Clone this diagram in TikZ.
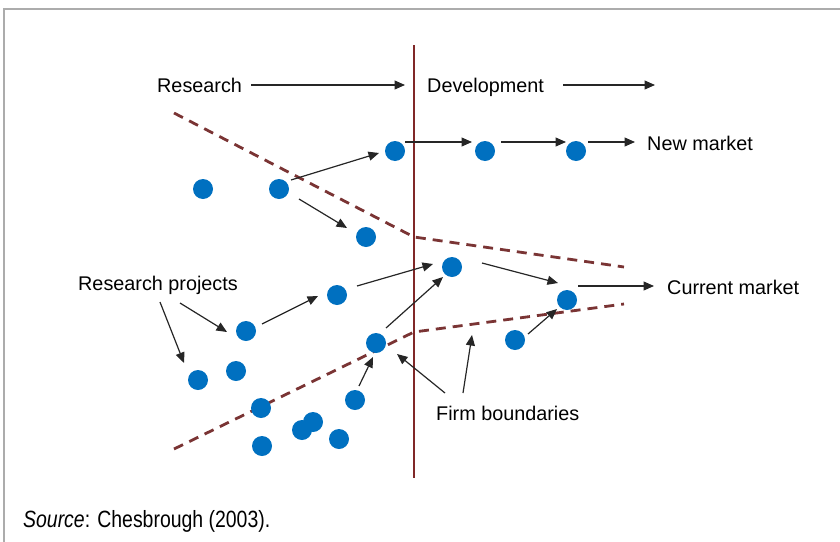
\documentclass[tikz,border=0pt]{standalone}
\usepackage{fontspec}
\setmainfont{Liberation Sans}
\usetikzlibrary{arrows.meta}
\definecolor{dotblue}{RGB}{0,112,192}
\definecolor{bound}{RGB}{122,52,52}
\definecolor{divider}{RGB}{128,40,40}
\definecolor{framegray}{RGB}{172,172,172}
\begin{document}
\begin{tikzpicture}[x=1pt,y=-1pt,
  dot/.style={circle,fill=dotblue,inner sep=0pt,minimum size=20pt},
  lbl/.style={inner sep=0pt,anchor=base west,font=\fontsize{19.8}{22}\selectfont},
  arr/.style={-{Triangle[length=10.5pt,width=9pt]},line width=1.2pt,black!85},
  boundary/.style={bound,line width=2.8pt,dash pattern=on 10pt off 7pt}]
\useasboundingbox (0,0) rectangle (840,541);
% frame
\draw[framegray,line width=2.6pt] (4,545) -- (4,9) -- (845,9);
% research / development divider
\draw[divider,line width=1.4pt] (414,45) -- (414,478);
% firm boundaries
\draw[boundary] (174,113) -- (414,237) -- (624,267);
\draw[boundary] (174,449) -- (414,332) -- (624,304);
% labels
\node[lbl] (res) at (157,92) {Research};
\node[lbl] (dev) at (427,92) {Development};
\node[lbl] (nm) at (647,150) {New market};
\node[lbl] (cm) at (667,294) {Current market};
\node[lbl] (rp) at (78,290) {Research projects};
\node[lbl] (fb) at (436,420) {Firm boundaries};
\node[inner sep=0pt,anchor=base west,font=\fontsize{23.5}{26}\selectfont] (src) at (23,527)
  {\scalebox{0.827}[1]{\textit{Source}: Chesbrough (2003).}};
\coordinate (devend) at (655,85);
\coordinate (fbA) at (397,354);
\coordinate (fbB) at (472,335);
% projects
\node[dot] (A) at (203,189) {};
\node[dot] (B) at (279,189) {};
\node[dot] (C) at (366,237) {};
\node[dot] (D) at (395,151) {};
\node[dot] (E) at (485,151) {};
\node[dot] (F) at (576,151) {};
\node[dot] (G) at (452,267) {};
\node[dot] (H) at (567,300) {};
\node[dot] (I) at (515,340) {};
\node[dot] (J) at (337,295) {};
\node[dot] (K) at (246,331) {};
\node[dot] (L) at (198,380) {};
\node[dot] (M) at (236,371) {};
\node[dot] (N) at (376,343) {};
\node[dot] (O) at (355,400) {};
\node[dot] (P) at (261,408) {};
\node[dot] (Q) at (302,430) {};
\node[dot] (R) at (313,422) {};
\node[dot] (S) at (339,439) {};
\node[dot] (T) at (262,446) {};
% stage arrows
\draw[arr] ([xshift=9pt]res.east |- 0,85) -- ([xshift=-22pt]dev.west |- 0,85);
\draw[arr] ([xshift=19pt]dev.east |- 0,85) -- (devend);
% project flows
\draw[arr] ([shift={(10,-9)}]D.center) -- ([shift={(-13,-9)}]E.center);
\draw[arr] ([shift={(16,-9)}]E.center) -- ([shift={(-10,-9)}]F.center);
\draw[arr] ([shift={(12,-9)}]F.center) -- ([shift={(-12,-8)}]nm.base west);
\draw[arr] ([shift={(12,-9)}]B.center) -- ([shift={(-16,2)}]D.center);
\draw[arr] ([shift={(20,10)}]B.center) -- ([shift={(-19,-9)}]C.center);
\draw[arr] ([shift={(20,-9)}]J.center) -- ([shift={(-19,-3)}]G.center);
\draw[arr] ([shift={(10,-15)}]N.center) -- ([shift={(-9,10)}]G.center);
\draw[arr] ([shift={(30,-4)}]G.center) -- ([shift={(-9,-17)}]H.center);
\draw[arr] ([shift={(11,-14)}]H.center) -- ([shift={(-13,-8)}]cm.base west);
\draw[arr] ([shift={(13,-6)}]I.center) -- ([shift={(-10,9)}]H.center);
\draw[arr] ([shift={(16,-7)}]K.center) -- ([shift={(-19,1)}]J.center);
\draw[arr] ([shift={(4,-14)}]O.center) -- ([shift={(-3,14)}]N.center);
% label pointers
\draw[arr] ([shift={(102,13)}]rp.base west) -- ([shift={(-19,1)}]K.center);
\draw[arr] ([shift={(82,12)}]rp.base west) -- ([shift={(-14,-17)}]L.center);
\draw[arr] ([shift={(9,-27)}]fb.base west) -- (fbA);
\draw[arr] ([shift={(27,-27)}]fb.base west) -- (fbB);
\end{tikzpicture}
\end{document}
